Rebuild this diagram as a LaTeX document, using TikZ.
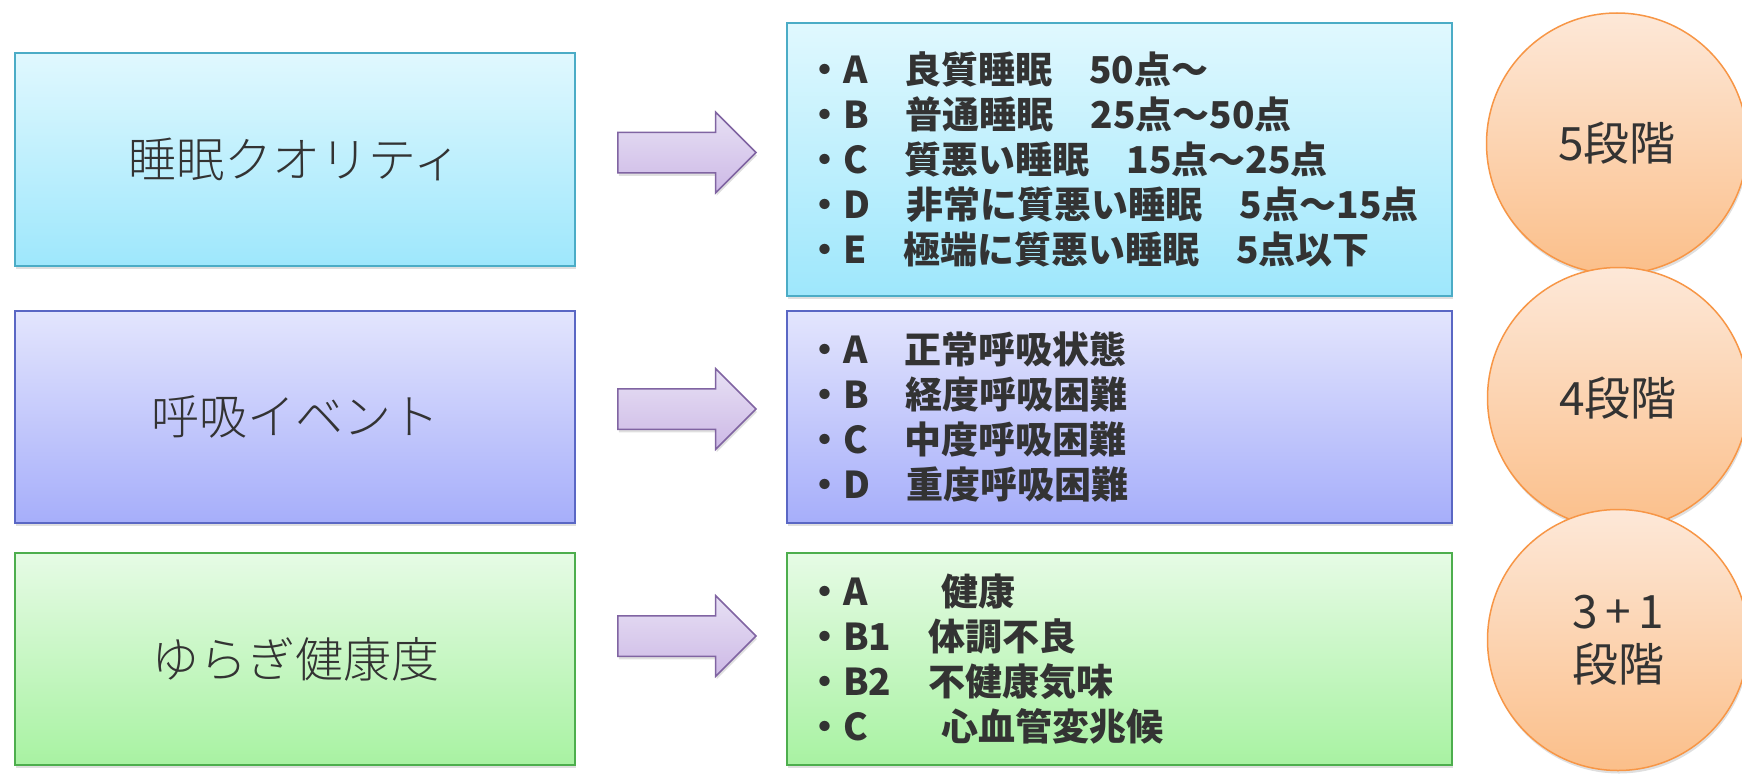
\documentclass[tikz,border=0pt]{standalone}
\usepackage{fontspec}
\setmainfont{Noto Sans CJK JP}
\newfontfamily\lightjp{Noto Sans CJK JP Light}
\usepackage{tikz}
\usetikzlibrary{shapes,shadows,positioning}
\definecolor{darktext}{HTML}{333333}
\definecolor{sleeptop}{HTML}{E0F8FE}
\definecolor{sleepbot}{HTML}{9EE7FC}
\definecolor{sleepline}{HTML}{4BACC6}
\definecolor{breathtop}{HTML}{E3E5FD}
\definecolor{breathbot}{HTML}{A6AEFA}
\definecolor{breathline}{HTML}{5A67C4}
\definecolor{healthtop}{HTML}{E6FBE5}
\definecolor{healthbot}{HTML}{A8F2A2}
\definecolor{healthline}{HTML}{4DAE4D}
\definecolor{stagetop}{HTML}{FDE8D8}
\definecolor{stagebot}{HTML}{FBBF8A}
\definecolor{stageline}{HTML}{F79646}
\definecolor{arrowtop}{HTML}{E7E0F4}
\definecolor{arrowbot}{HTML}{CDB9E6}
\definecolor{arrowline}{HTML}{8064A2}
\def\blockarr#1#2{\node[blockarrow] (#1) at (757,#2) {}}
\tikzstyle{boxshadow}=[drop shadow={shadow xshift=1pt,shadow yshift=-3pt,opacity=.25}]
\tikzstyle{cat}=[rectangle,line width=1.5pt,minimum width=560pt,minimum height=212pt,text=darktext,font=\lightjp\fontsize{48}{56}\selectfont,boxshadow]
\tikzstyle{grades}=[rectangle,line width=1.5pt,minimum width=665pt,minimum height=212pt,text width=627pt,inner xsep=19pt,align=left,text=darktext,font=\bfseries\fontsize{37}{45}\selectfont,boxshadow]
\tikzstyle{blockarrow}=[single arrow,draw=arrowline,line width=1.5pt,top color=arrowtop,bottom color=arrowbot,minimum height=138pt,inner xsep=0pt,inner ysep=19.5pt,single arrow head extend=20pt,anchor=tip,boxshadow]
\tikzstyle{stage}=[circle,draw=stageline,line width=1.5pt,top color=stagetop,bottom color=stagebot,minimum size=261pt,inner sep=0pt,align=center,text=darktext,font=\fontsize{46}{53}\selectfont,boxshadow]
\tikzstyle{sleep}=[draw=sleepline,top color=sleeptop,bottom color=sleepbot]
\tikzstyle{breath}=[draw=breathline,top color=breathtop,bottom color=breathbot]
\tikzstyle{health}=[draw=healthline,top color=healthtop,bottom color=healthbot]

\begin{document}
\begin{tikzpicture}[x=1pt,y=-1pt]
  \useasboundingbox (0,0) rectangle (1742,776);
  % categories
  \node[cat,sleep,minimum height=213pt] (quality) at (295,159.5) {睡眠クオリティ};
  \node[cat,breath] (event) at (295,417) {呼吸イベント};
  \node[cat,health] (fluct) at (295,659) {ゆらぎ健康度};
  % grade lists
  \node[grades,sleep,minimum height=273pt] (qgrades) at (1119.5,159.5)
    {・A　良質睡眠　50点～\\・B　普通睡眠　25点～50点\\・C　質悪い睡眠　15点～25点\\・D　非常に質悪い睡眠　5点～15点\\・E　極端に質悪い睡眠　5点以下};
  \node[grades,breath] (egrades) at (1119.5,417)
    {・A　正常呼吸状態\\・B　経度呼吸困難\\・C　中度呼吸困難\\・D　重度呼吸困難};
  \node[grades,health] (fgrades) at (1119.5,659)
    {・A　　健康\\・B1　体調不良\\・B2　不健康気味\\・C　　心血管変兆候};
  % arrows
  \blockarr{qarrow}{152.5};
  \blockarr{earrow}{409};
  \blockarr{farrow}{636};
  % stages
  \node[stage] (qstage) at (1617,143.5) {5段階};
  \node[stage] (estage) at (1618,398) {4段階};
  \node[stage] (fstage) at (1618,640) {3\,+\,1\\段階};
\end{tikzpicture}
\end{document}
